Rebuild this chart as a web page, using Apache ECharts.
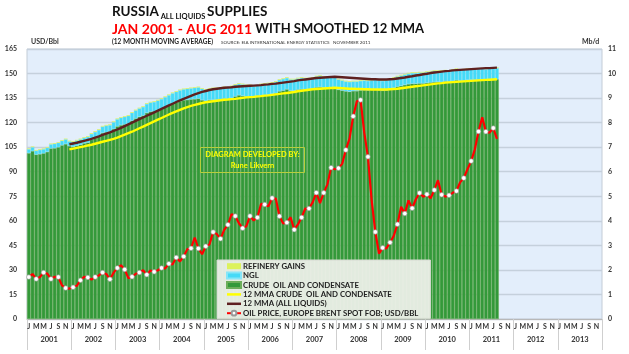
<!DOCTYPE html>
<html>
<head>
<meta charset="utf-8">
<script src="https://cdn.jsdelivr.net/npm/echarts@6/dist/echarts.min.js"></script>
<style>
  html, body { margin: 0; padding: 0; background: #fff; }
  #chart { width: 629px; height: 354px; }
</style>
</head>
<body>
<div id="chart"></div>
<script>
// month initials and year groups for the two-level x axis
var monthLetters = ['J','F','M','A','M','J','J','A','S','O','N','D'];
var years = ['2001','2002','2003','2004','2005','2006','2007','2008','2009','2010','2011','2012','2013'];

// Mb/d, Jan 2001 .. Aug 2011
var crude = [
  6.76, 6.84, 6.70, 6.72, 6.75, 6.81, 6.95, 6.96, 7.00, 7.08, 7.13, 7.05,
  7.02, 7.06, 7.10, 7.16, 7.19, 7.30, 7.38, 7.45, 7.58, 7.61, 7.63, 7.74,
  7.85, 7.90, 7.93, 7.96, 8.08, 8.17, 8.24, 8.29, 8.40, 8.45, 8.46, 8.51,
  8.56, 8.63, 8.70, 8.78, 8.83, 8.88, 8.92, 8.93, 8.95, 8.96, 8.98, 8.92,
  8.88, 8.92, 8.93, 8.93, 8.95, 8.98, 8.95, 9.00, 9.07, 9.12, 9.09, 9.06,
  9.05, 9.02, 9.05, 9.10, 9.11, 9.14, 9.17, 9.20, 9.28, 9.31, 9.36, 9.30,
  9.30, 9.35, 9.36, 9.35, 9.36, 9.37, 9.44, 9.45, 9.42, 9.41, 9.42, 9.43,
  9.34, 9.31, 9.28, 9.26, 9.29, 9.29, 9.32, 9.33, 9.32, 9.34, 9.35, 9.33,
  9.31, 9.32, 9.36, 9.41, 9.47, 9.50, 9.54, 9.57, 9.59, 9.59, 9.60, 9.60,
  9.62, 9.64, 9.65, 9.66, 9.65, 9.68, 9.66, 9.69, 9.73, 9.70, 9.71, 9.74,
  9.74, 9.74, 9.75, 9.76, 9.75, 9.76, 9.76, 9.77
];
var ngl = [
  0.16, 0.16, 0.16, 0.17, 0.17, 0.17, 0.17, 0.18, 0.18, 0.18, 0.19, 0.19,
  0.20, 0.21, 0.22, 0.22, 0.23, 0.24, 0.24, 0.25, 0.26, 0.27, 0.27, 0.28,
  0.29, 0.30, 0.31, 0.32, 0.32, 0.33, 0.34, 0.35, 0.36, 0.37, 0.38, 0.39,
  0.40, 0.41, 0.42, 0.42, 0.43, 0.44, 0.44, 0.45, 0.45, 0.46, 0.46, 0.46,
  0.46, 0.46, 0.47, 0.47, 0.47, 0.46, 0.47, 0.48, 0.47, 0.46, 0.47, 0.46,
  0.47, 0.46, 0.45, 0.46, 0.47, 0.46, 0.45, 0.46, 0.46, 0.47, 0.46, 0.46,
  0.46, 0.45, 0.46, 0.45, 0.44, 0.45, 0.44, 0.45, 0.44, 0.43, 0.44, 0.43,
  0.42, 0.41, 0.40, 0.40, 0.39, 0.39, 0.38, 0.39, 0.38, 0.38, 0.39, 0.39,
  0.39, 0.40, 0.40, 0.41, 0.41, 0.42, 0.42, 0.43, 0.43, 0.43, 0.44, 0.44,
  0.44, 0.44, 0.45, 0.44, 0.45, 0.44, 0.44, 0.45, 0.45, 0.44, 0.45, 0.44,
  0.44, 0.44, 0.45, 0.44, 0.43, 0.44, 0.44, 0.45
];
var refGains = [
  0.03, 0.03, 0.03, 0.03, 0.03, 0.03, 0.03, 0.03, 0.03, 0.03, 0.03, 0.03,
  0.03, 0.03, 0.03, 0.03, 0.03, 0.03, 0.03, 0.03, 0.03, 0.03, 0.03, 0.03,
  0.03, 0.03, 0.03, 0.03, 0.03, 0.03, 0.03, 0.03, 0.03, 0.03, 0.03, 0.03,
  0.03, 0.03, 0.03, 0.03, 0.03, 0.03, 0.03, 0.03, 0.03, 0.03, 0.03, 0.03,
  0.03, 0.03, 0.03, 0.03, 0.03, 0.03, 0.03, 0.03, 0.03, 0.03, 0.03, 0.03,
  0.03, 0.03, 0.03, 0.03, 0.03, 0.03, 0.03, 0.03, 0.03, 0.03, 0.03, 0.03,
  0.03, 0.03, 0.03, 0.03, 0.03, 0.03, 0.03, 0.03, 0.03, 0.03, 0.03, 0.03,
  0.03, 0.03, 0.03, 0.03, 0.03, 0.03, 0.03, 0.03, 0.03, 0.03, 0.03, 0.03,
  0.03, 0.03, 0.03, 0.03, 0.03, 0.03, 0.03, 0.03, 0.03, 0.03, 0.03, 0.03,
  0.03, 0.03, 0.03, 0.03, 0.03, 0.03, 0.03, 0.03, 0.03, 0.03, 0.03, 0.03,
  0.03, 0.03, 0.03, 0.03, 0.03, 0.03, 0.03, 0.03
];
// 12 month moving averages, Dec 2001 .. Aug 2011
var mmaCrude = [
  6.91,
  6.94, 6.97, 7.00, 7.03, 7.07, 7.10, 7.14, 7.18, 7.22, 7.26, 7.30, 7.34,
  7.39, 7.45, 7.51, 7.57, 7.63, 7.70, 7.77, 7.84, 7.91, 7.98, 8.05, 8.12,
  8.19, 8.26, 8.33, 8.40, 8.46, 8.52, 8.58, 8.63, 8.68, 8.72, 8.76, 8.80,
  8.83, 8.85, 8.87, 8.89, 8.91, 8.93, 8.94, 8.96, 8.97, 8.99, 9.01, 9.03,
  9.04, 9.05, 9.07, 9.08, 9.10, 9.11, 9.13, 9.15, 9.17, 9.19, 9.21, 9.23,
  9.25, 9.28, 9.30, 9.32, 9.34, 9.36, 9.37, 9.38, 9.39, 9.40, 9.41, 9.42,
  9.41, 9.40, 9.39, 9.38, 9.38, 9.37, 9.37, 9.36, 9.36, 9.35, 9.35, 9.35,
  9.35, 9.35, 9.36, 9.37, 9.38, 9.40, 9.42, 9.44, 9.46, 9.48, 9.50, 9.52,
  9.54, 9.56, 9.58, 9.60, 9.61, 9.63, 9.64, 9.65, 9.66, 9.67, 9.68, 9.69,
  9.70, 9.71, 9.72, 9.73, 9.74, 9.75, 9.76, 9.77
];
var mmaAll = [
  7.12,
  7.15, 7.18, 7.22, 7.26, 7.30, 7.34, 7.39, 7.44, 7.50, 7.55, 7.60, 7.66,
  7.72, 7.79, 7.86, 7.93, 8.00, 8.07, 8.14, 8.21, 8.28, 8.35, 8.42, 8.49,
  8.56, 8.63, 8.70, 8.77, 8.84, 8.91, 8.97, 9.03, 9.09, 9.15, 9.20, 9.25,
  9.29, 9.33, 9.36, 9.38, 9.40, 9.42, 9.43, 9.44, 9.46, 9.47, 9.48, 9.49,
  9.50, 9.51, 9.52, 9.53, 9.55, 9.56, 9.58, 9.59, 9.61, 9.63, 9.65, 9.67,
  9.69, 9.72, 9.74, 9.76, 9.78, 9.80, 9.82, 9.83, 9.84, 9.85, 9.86, 9.87,
  9.86, 9.85, 9.84, 9.83, 9.82, 9.81, 9.80, 9.79, 9.78, 9.77, 9.77, 9.76,
  9.76, 9.76, 9.77, 9.78, 9.80, 9.82, 9.84, 9.87, 9.89, 9.92, 9.94, 9.97,
  9.99, 10.02, 10.04, 10.06, 10.08, 10.10, 10.11, 10.13, 10.14, 10.15, 10.16, 10.17,
  10.18, 10.19, 10.20, 10.21, 10.22, 10.22, 10.23, 10.24
];
// USD/bbl, Jan 2001 .. Aug 2011
var brent = [
  25.6, 27.5, 24.5, 25.6, 28.4, 27.7, 24.5, 25.8, 25.6, 20.5, 18.9, 18.6,
  19.4, 20.3, 23.7, 25.7, 25.4, 24.1, 25.7, 26.6, 28.4, 27.5, 24.3, 28.3,
  31.2, 32.8, 30.3, 25.0, 25.8, 27.6, 28.4, 29.8, 27.1, 29.6, 28.8, 29.8,
  31.2, 30.9, 33.8, 33.4, 37.6, 35.2, 38.2, 42.7, 43.2, 49.8, 43.1, 39.6,
  44.5, 45.5, 53.1, 51.9, 49.0, 54.5, 57.6, 64.1, 62.9, 58.5, 55.5, 56.7,
  62.9, 60.2, 62.1, 70.3, 70.0, 68.9, 73.9, 73.6, 62.8, 58.4, 58.9, 62.2,
  54.6, 57.8, 62.1, 67.5, 67.5, 71.3, 77.2, 70.8, 77.1, 82.3, 92.5, 91.5,
  92.2, 94.8, 103.3, 110.2, 123.9, 133.1, 133.9, 113.9, 99.1, 72.7, 53.2, 40.0,
  43.5, 43.2, 46.8, 50.8, 57.9, 68.6, 64.4, 72.5, 67.7, 73.2, 77.0, 74.7,
  76.2, 73.8, 78.8, 84.8, 75.9, 74.8, 75.6, 77.1, 78.2, 83.5, 86.1, 91.5,
  96.5, 103.7, 114.6, 123.3, 114.5, 113.9, 116.7, 110.1
];

var monthCats = [];
years.forEach(function(){ monthCats = monthCats.concat(monthLetters); });
var mmaLead = new Array(11).fill(null);

var FONT = 'Lato, "Open Sans", sans-serif';
var lbl = { fontFamily: FONT, fontWeight: 'bold', fontSize: 7, color: '#333' };
var lineIcon = 'path://M0,0L28,0L28,5L0,5Z';

var myChart = echarts.init(document.getElementById('chart'), null, {renderer: 'canvas'});
var option = {
  animation: false,
  backgroundColor: '#ffffff',
  grid: {
    left: 27, right: 27, top: 49, bottom: 35,
    show: true, backgroundColor: '#e3eefb', borderColor: '#c3ccd6', borderWidth: 1
  },
  legend: {
    orient: 'vertical', left: 217, top: 260,
    itemWidth: 14, itemHeight: 6, itemGap: 1,
    backgroundColor: 'rgba(236,239,232,0.95)', borderColor: '#d6dad2', borderWidth: 1,
    padding: [2, 12, 1, 9],
    textStyle: { fontFamily: FONT, fontWeight: 'bold', fontSize: 7.8, lineHeight: 8.4, color: '#222', padding: [0, 0, 0, -3] },
    data: [
      { name: 'REFINERY GAINS', icon: 'rect' },
      { name: 'NGL', icon: 'rect' },
      { name: 'CRUDE  OIL AND CONDENSATE', icon: 'rect' },
      { name: '12 MMA CRUDE  OIL AND CONDENSATE', icon: lineIcon },
      { name: '12 MMA (ALL LIQUIDS)', icon: lineIcon },
      { name: 'OIL PRICE, EUROPE BRENT SPOT FOB; USD/BBL' }
    ]
  },
  xAxis: [
    {
      type: 'category', data: monthCats, boundaryGap: true,
      axisLine: { show: true, lineStyle: { color: '#b8b8b8' } },
      axisTick: { show: false },
      axisLabel: Object.assign({ interval: 1, margin: 4 }, lbl)
    },
    {
      type: 'category', data: years, position: 'bottom', boundaryGap: true,
      axisLine: { show: false },
      axisTick: { show: true, interval: 0, length: 31, lineStyle: { color: '#cfcfcf' } },
      axisLabel: Object.assign({ interval: 0, margin: 17 }, lbl, { fontSize: 7.5 })
    }
  ],
  yAxis: [
    {
      type: 'value', min: 0, max: 165, interval: 15, position: 'left',
      axisLine: { show: false }, axisTick: { show: false },
      splitLine: { lineStyle: { color: '#c5d0dc', width: 1.3 } },
      axisLabel: Object.assign({ margin: 10 }, lbl)
    },
    {
      type: 'value', min: 0, max: 11, interval: 1, position: 'right',
      axisLine: { show: false }, axisTick: { show: false },
      splitLine: { show: false },
      axisLabel: Object.assign({ margin: 6 }, lbl)
    }
  ],
  series: [
    {
      name: 'CRUDE  OIL AND CONDENSATE', type: 'bar', stack: 'liq', yAxisIndex: 1,
      data: crude, barCategoryGap: '0%',
      itemStyle: { color: '#33993a', borderColor: '#6cae5a', borderWidth: 0.5 }
    },
    {
      name: 'NGL', type: 'bar', stack: 'liq', yAxisIndex: 1, data: ngl,
      itemStyle: { color: '#45daf7', borderColor: '#86e6f8', borderWidth: 0.4 }
    },
    {
      name: 'REFINERY GAINS', type: 'bar', stack: 'liq', yAxisIndex: 1, data: refGains,
      itemStyle: { color: '#dcf25c' }
    },
    {
      name: '12 MMA CRUDE  OIL AND CONDENSATE', type: 'line', yAxisIndex: 1,
      data: mmaLead.concat(mmaCrude), symbol: 'none',
      lineStyle: { color: '#ffff00', width: 2.4 }, itemStyle: { color: '#ffff00' }
    },
    {
      name: '12 MMA (ALL LIQUIDS)', type: 'line', yAxisIndex: 1,
      data: mmaLead.concat(mmaAll), symbol: 'none',
      lineStyle: { color: '#5e2020', width: 2.4 }, itemStyle: { color: '#5e2020' }
    },
    {
      name: 'OIL PRICE, EUROPE BRENT SPOT FOB; USD/BBL', type: 'line', yAxisIndex: 0,
      data: brent, symbol: 'circle', symbolSize: 4.5, showSymbol: true,
      lineStyle: { color: '#ff0000', width: 2.2 },
      itemStyle: { color: '#ffffff', borderColor: '#999999', borderWidth: 0.6 }
    }
  ],
  graphic: [
    {
      type: 'text', left: 112, top: 5, z: 10,
      style: {
        text: '{a|RUSSIA}{b| ALL LIQUIDS }{a|SUPPLIES}',
        rich: {
          a: { fontFamily: FONT, fontWeight: 'bold', fontSize: 13.5, fill: '#111', verticalAlign: 'top', lineHeight: 17 },
          b: { fontFamily: FONT, fontWeight: 'bold', fontSize: 7.5, fill: '#111', verticalAlign: 'top', padding: [8, 0, 0, 0], lineHeight: 17 }
        }
      }
    },
    {
      type: 'text', left: 112, top: 22, z: 10,
      style: {
        text: '{r|JAN 2001 - AUG 2011}{k| WITH SMOOTHED 12 MMA}',
        rich: {
          r: { fontFamily: FONT, fontWeight: 'bold', fontSize: 14, fill: '#ff0000' },
          k: { fontFamily: FONT, fontWeight: 'bold', fontSize: 13, fill: '#111' }
        }
      }
    },
    {
      type: 'text', left: 112, top: 38, z: 10,
      style: {
        text: '{s|(12 }{m|M}{s|ONTH }{m|M}{s|OVING }{m|A}{s|VERAGE)}',
        rich: {
          s: { fontFamily: FONT, fontWeight: 'bold', fontSize: 6.5, fill: '#222' },
          m: { fontFamily: FONT, fontWeight: 'bold', fontSize: 7.5, fill: '#222' }
        }
      }
    },
    {
      type: 'text', left: 221, top: 40, z: 10,
      style: { text: 'SOURCE: EIA INTERNATIONAL ENERGY STATISTICS   NOVEMBER 2011',
        fontFamily: FONT, fontSize: 4.6, fill: '#333' }
    },
    {
      type: 'text', left: 31, top: 38, z: 10,
      style: { text: 'USD/Bbl', fontFamily: FONT, fontWeight: 'bold', fontSize: 7, fill: '#333' }
    },
    {
      type: 'text', left: 582, top: 38, z: 10,
      style: { text: 'Mb/d', fontFamily: FONT, fontWeight: 'bold', fontSize: 7, fill: '#333' }
    },
    {
      type: 'rect', shape: { x: 200.5, y: 147.5, width: 104, height: 25 }, z: 10,
      style: { fill: 'rgba(0,0,0,0)', stroke: '#b7cf3c', lineWidth: 1 }
    },
    {
      type: 'text', x: 252.5, y: 155, z: 11,
      style: { text: 'DIAGRAM DEVELOPED BY:', align: 'center', verticalAlign: 'middle',
        fontFamily: FONT, fontWeight: 'bold', fontSize: 7.5, fill: '#ffff00' }
    },
    {
      type: 'text', x: 252.5, y: 166, z: 11,
      style: { text: 'Rune Likvern', align: 'center', verticalAlign: 'middle',
        fontFamily: FONT, fontWeight: 'bold', fontSize: 7.5, fill: '#ffff00' }
    }
  ]
};
myChart.setOption(option);
</script>
</body>
</html>
